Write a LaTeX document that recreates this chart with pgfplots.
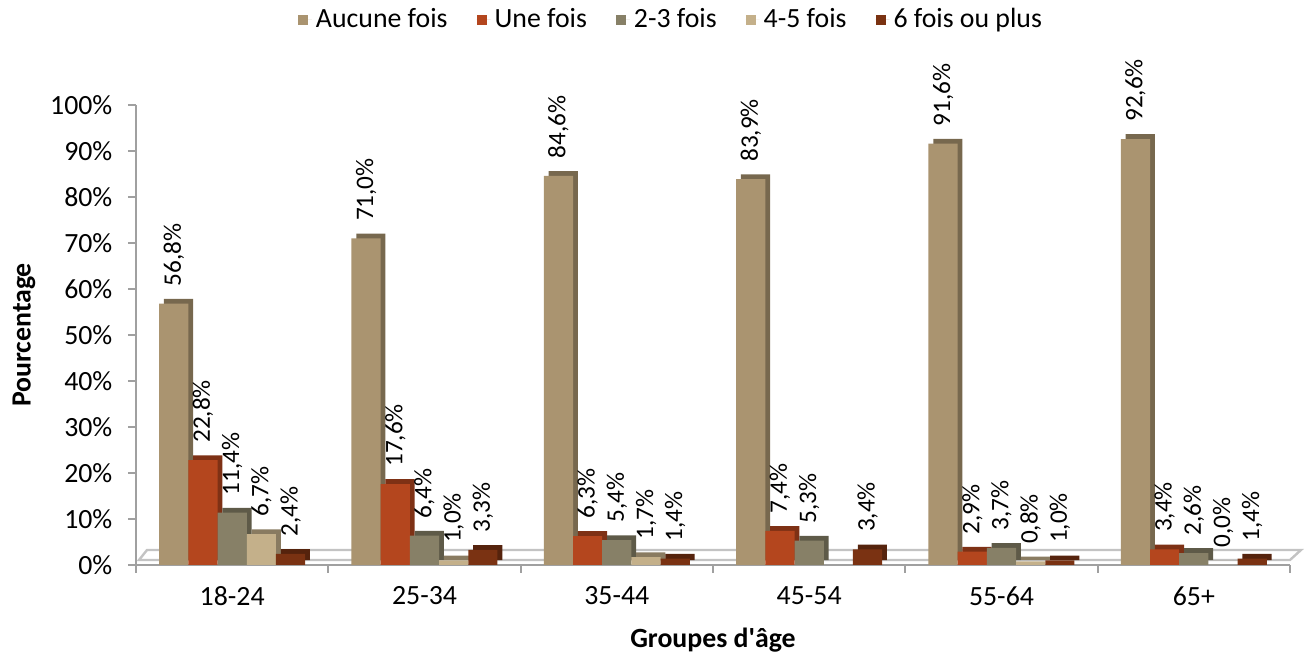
\documentclass[border=0pt]{standalone}
\usepackage{pgfplots}
\pgfplotsset{compat=1.18}
\usepackage{fontspec}
\setmainfont{Carlito}

% series colours
\definecolor{cA}{RGB}{170,148,112}
\definecolor{cB}{RGB}{180,70,30}
\definecolor{cC}{RGB}{135,128,103}
\definecolor{cD}{RGB}{196,176,138}
\definecolor{cE}{RGB}{122,50,18}
\definecolor{axisgray}{RGB}{160,160,160}
\definecolor{floorgray}{RGB}{195,195,195}

\pgfplotsset{
  front/.style={fill=#1, draw=none,
    legend image code/.code={\fill[#1] (0pt,-2.6pt) rectangle (5.2pt,2.6pt); \path (0pt,0pt) -- (7pt,0pt);},
    nodes near coords={\pgfmathprintnumber[fixed,fixed zerofill,precision=1,use comma,assume math mode=true]{\pgfplotspointmeta}\%},
    every node near coord/.append style={rotate=90, anchor=west, inner xsep=8.5pt, inner ysep=1pt,
      text=black, font=\fontsize{12.6}{15}\selectfont}},
  depth/.style={fill=#1, draw=none, forget plot, xshift=2.4pt, yshift=2.4pt},
}

\begin{document}
\fontsize{13.9}{16.5}\selectfont
\begin{tikzpicture}
\begin{axis}[
  name=ax,
  scale only axis, width=577pt, height=230pt,
  xmin=-0.5, xmax=5.5, ymin=0, ymax=100,
  enlargelimits=false,
  clip=false,
  ybar, bar width=14.6pt,
  axis x line=bottom, axis y line=left,
  axis line style={-, draw=axisgray, line width=1pt},
  tick align=outside,
  every tick/.style={axisgray, line width=1pt},
  major tick length=4pt, minor tick length=4pt,
  xtick={0,...,5},
  xticklabels={18-24,25-34,35-44,45-54,55-64,65+},
  major x tick style={draw=none},
  minor xtick={-0.5,0.5,1.5,2.5,3.5,4.5,5.5},
  ytick={0,10,...,100},
  yticklabels={0\%,10\%,20\%,30\%,40\%,50\%,60\%,70\%,80\%,90\%,100\%},
  xticklabel style={yshift=-2pt},
  yticklabel style={xshift=-3pt},
  xlabel={\bfseries Groupes d\textquotesingle âge},
  ylabel={\bfseries Pourcentage},
  xlabel style={at={(axis description cs:0.5,0)}, anchor=center, yshift=-37.5pt},
  ylabel style={at={(axis description cs:0,0.5)}, anchor=center, yshift=56pt},
  legend columns=5,
  legend cell align=left,
  legend style={draw=none, fill=none, at={(axis description cs:0.5,1)}, anchor=center,
    xshift=-20.5pt, yshift=42.5pt,
    /tikz/every even column/.append style={column sep=12.5pt}},
]

% floor of the chart
\draw[floorgray, line width=1.2pt, fill=white]
  ([shift={(1.5pt,2.5pt)}]axis cs:-0.5,0) -- ([shift={(0pt,2.5pt)}]axis cs:5.5,0)
  -- ([shift={(5.5pt,7.5pt)}]axis cs:5.5,0) -- ([shift={(5.5pt,7.5pt)}]axis cs:-0.5,0) -- cycle;

% depth faces
\addplot[depth=cA!70!black, bar shift=-29.2pt] coordinates {(0,56.8) (1,71.0) (2,84.6) (3,83.9) (4,91.6) (5,92.6)};
\addplot[depth=cB!70!black, bar shift=-14.6pt] coordinates {(0,22.8) (1,17.6) (2,6.3) (3,7.4) (4,2.9) (5,3.4)};
\addplot[depth=cC!70!black, bar shift=0pt] coordinates {(0,11.4) (1,6.4) (2,5.4) (3,5.3) (4,3.7) (5,2.6)};
\addplot[depth=cD!70!black, bar shift=14.6pt] coordinates {(0,6.7) (1,1.0) (2,1.7) (4,0.8) (5,0.0)};
\addplot[depth=cE!70!black, bar shift=29.2pt] coordinates {(0,2.4) (1,3.3) (2,1.4) (3,3.4) (4,1.0) (5,1.4)};

% front faces
\addplot[front=cA, bar shift=-29.2pt] coordinates {(0,56.8) (1,71.0) (2,84.6) (3,83.9) (4,91.6) (5,92.6)};
\addplot[front=cB, bar shift=-14.6pt] coordinates {(0,22.8) (1,17.6) (2,6.3) (3,7.4) (4,2.9) (5,3.4)};
\addplot[front=cC, bar shift=0pt] coordinates {(0,11.4) (1,6.4) (2,5.4) (3,5.3) (4,3.7) (5,2.6)};
\addplot[front=cD, bar shift=14.6pt] coordinates {(0,6.7) (1,1.0) (2,1.7) (4,0.8) (5,0.0)};
\addplot[front=cE, bar shift=29.2pt] coordinates {(0,2.4) (1,3.3) (2,1.4) (3,3.4) (4,1.0) (5,1.4)};

\legend{Aucune fois, Une fois, 2-3 fois, 4-5 fois, 6 fois ou plus}
\end{axis}
\pgfresetboundingbox
\path[use as bounding box] ([shift={(-68pt,-46pt)}]ax.south west) rectangle ++(653.5pt,328.5pt);
\end{tikzpicture}
\end{document}
